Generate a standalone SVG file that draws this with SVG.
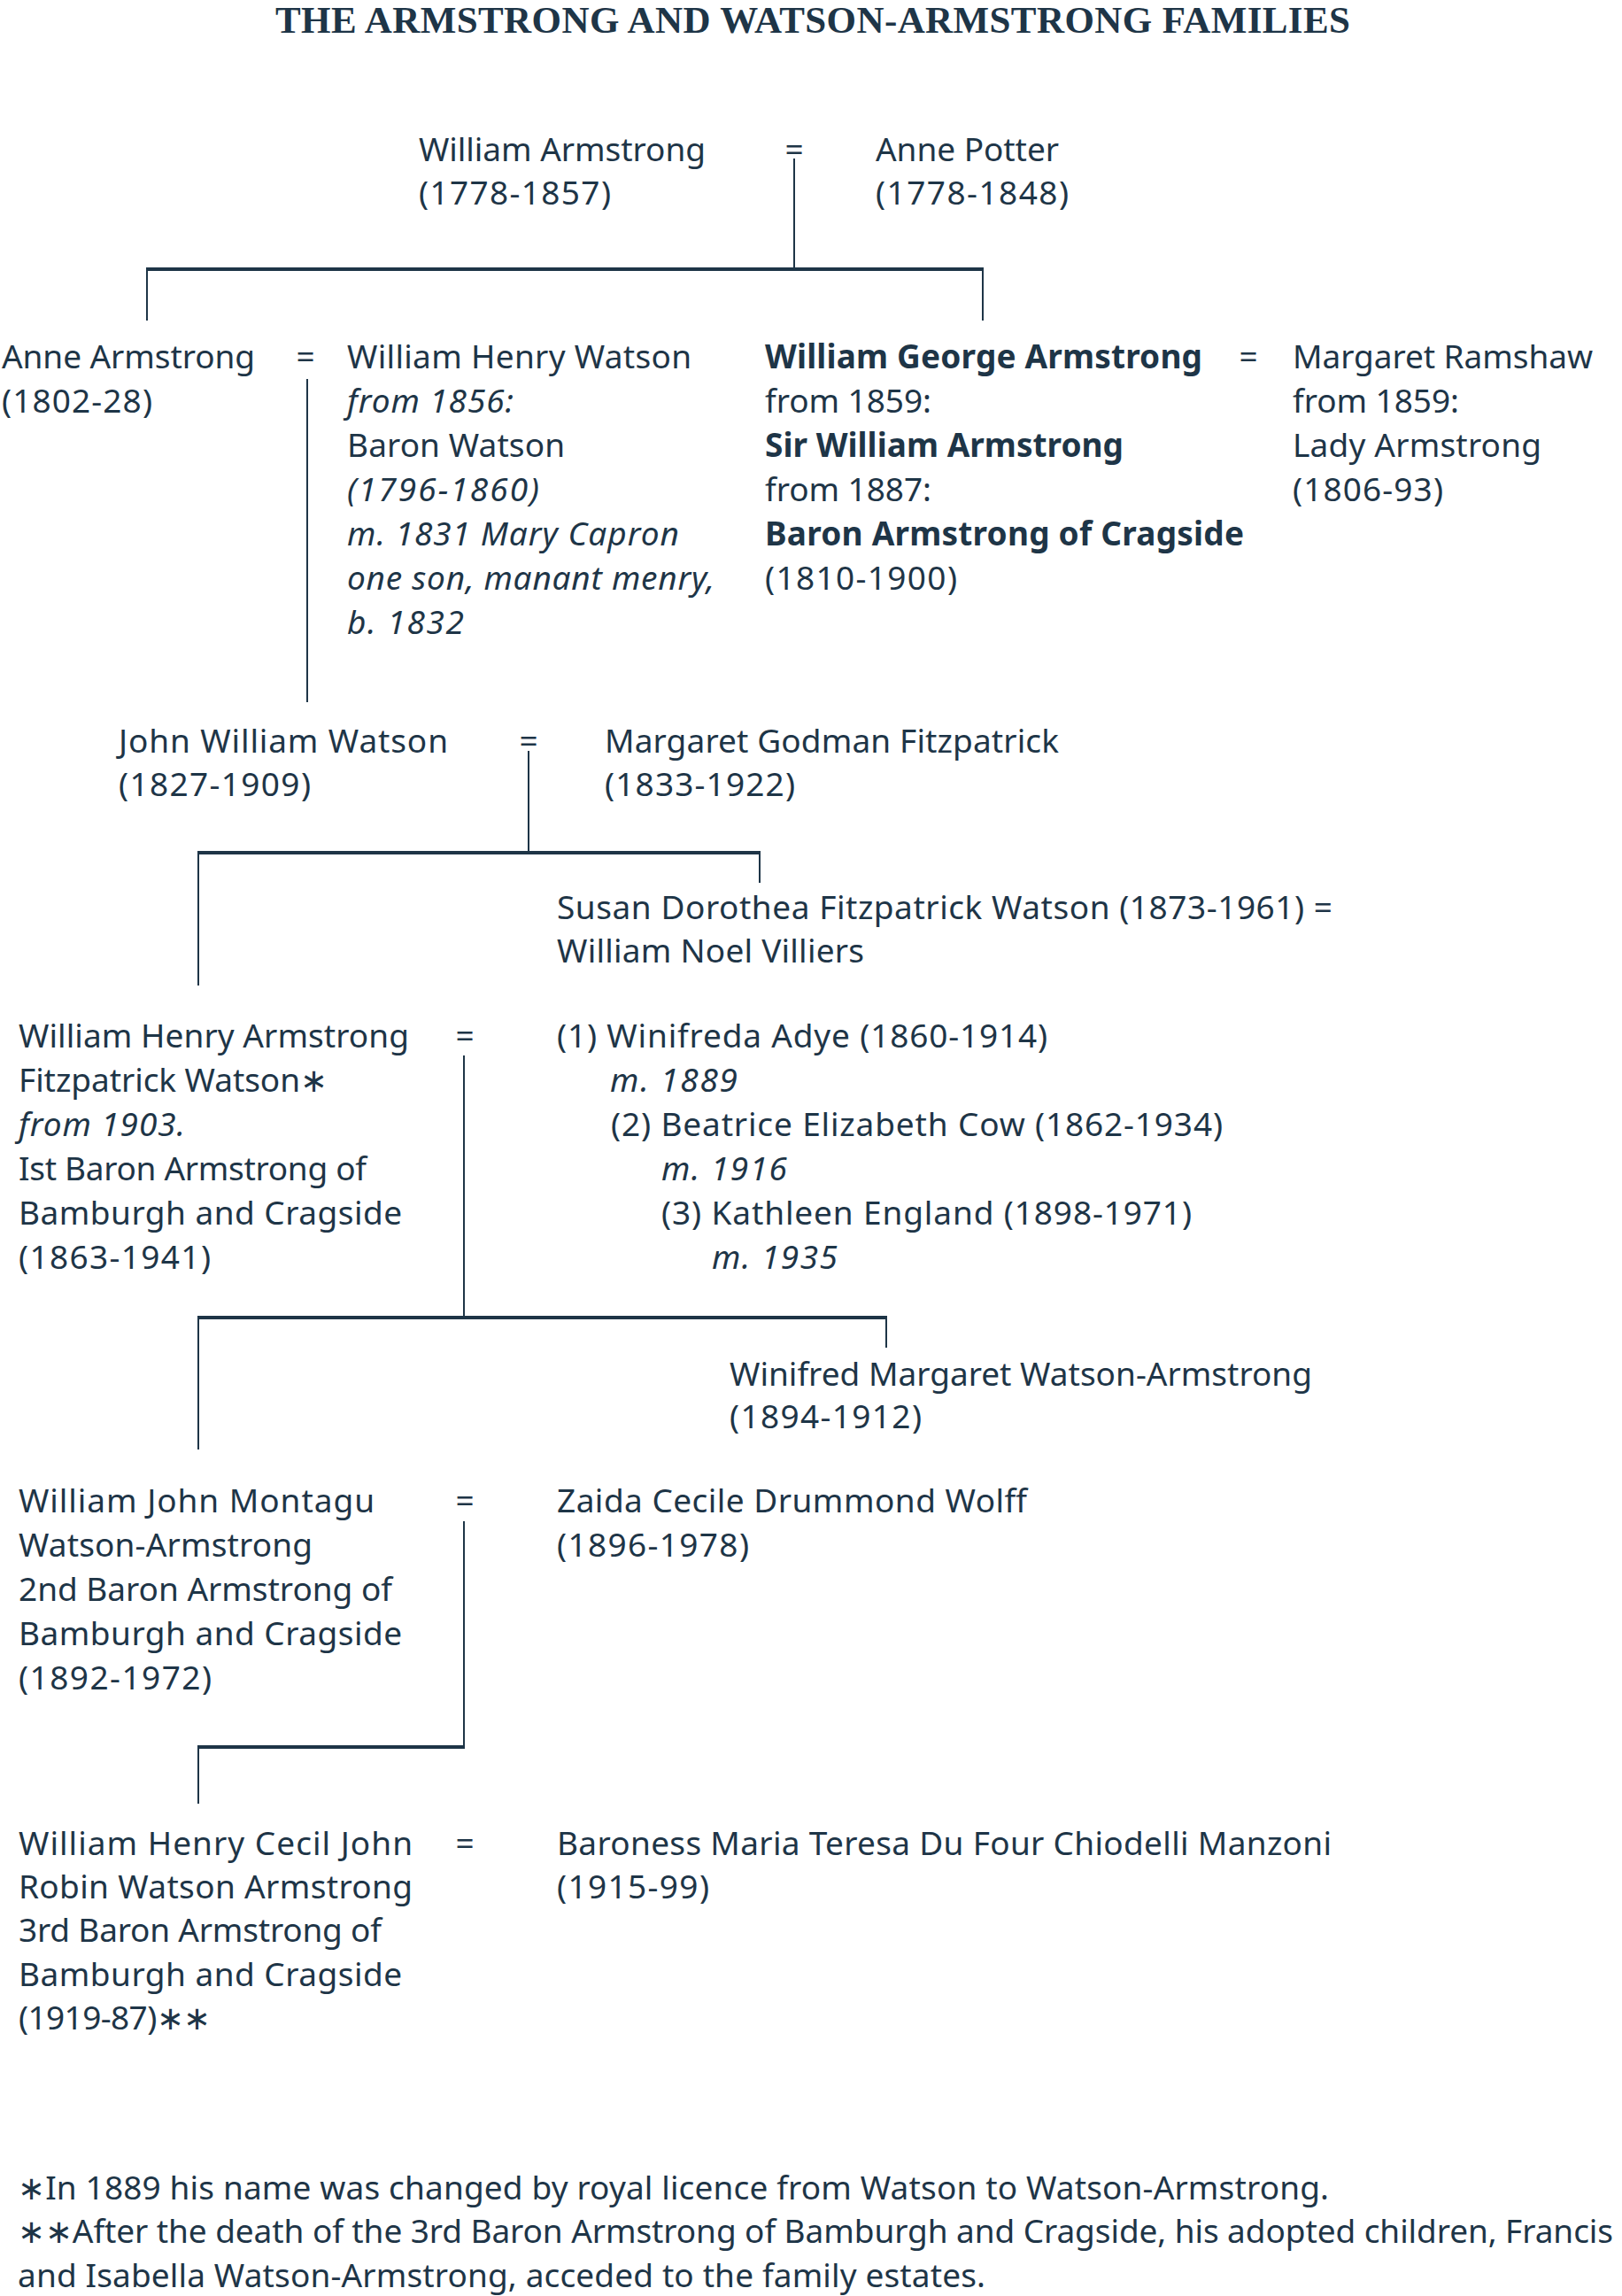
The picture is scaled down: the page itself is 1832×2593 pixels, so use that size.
<svg xmlns="http://www.w3.org/2000/svg" width="1832" height="2593" viewBox="0 0 1832 2593">
<style>
text{font-family:"Noto Sans","Open Sans","Liberation Sans",sans-serif;font-size:37px;fill:#1e3547}
.t{font-family:"Liberation Serif","DejaVu Serif",serif;font-weight:bold;font-size:43px}
.i{font-style:italic}
.b{font-weight:bold}
.eq{text-anchor:middle}
.v{stroke:#1e3547;stroke-width:2;fill:none}
.h{stroke:#1e3547;stroke-width:4;fill:none}
</style>
<rect width="1832" height="2593" fill="#ffffff"/>
<text class="t" x="311" y="37" textLength="1214">THE ARMSTRONG AND WATSON-ARMSTRONG FAMILIES</text>

<g id="connectors">
<line class="v" x1="897" y1="179" x2="897" y2="304"/>
<line class="h" x1="165" y1="304" x2="1111" y2="304"/>
<line class="v" x1="166" y1="304" x2="166" y2="362"/>
<line class="v" x1="1110" y1="304" x2="1110" y2="362"/>
<line class="v" x1="347" y1="428" x2="347" y2="793"/>
<line class="v" x1="597" y1="848" x2="597" y2="963"/>
<line class="h" x1="223" y1="963" x2="859" y2="963"/>
<line class="v" x1="224" y1="963" x2="224" y2="1113"/>
<line class="v" x1="858" y1="963" x2="858" y2="997"/>
<line class="v" x1="524" y1="1192" x2="524" y2="1488"/>
<line class="h" x1="223" y1="1488" x2="1002" y2="1488"/>
<line class="v" x1="224" y1="1488" x2="224" y2="1637"/>
<line class="v" x1="1001" y1="1488" x2="1001" y2="1522"/>
<line class="v" x1="524" y1="1718" x2="524" y2="1973"/>
<line class="h" x1="223" y1="1973" x2="525" y2="1973"/>
<line class="v" x1="224" y1="1973" x2="224" y2="2037"/>
</g>

<g id="marriages">
<text class="eq" x="897" y="182">=</text>
<text class="eq" x="345" y="416">=</text>
<text class="eq" x="1410" y="416">=</text>
<text class="eq" x="597" y="850">=</text>
<text class="eq" x="525" y="1183">=</text>
<text class="eq" x="525" y="1708">=</text>
<text class="eq" x="525" y="2095">=</text>
</g>

<g id="william-armstrong">
<text x="473" y="182" textLength="324">William Armstrong</text>
<text x="473" y="231" textLength="217">(1778-1857)</text>
</g>
<g id="anne-potter">
<text x="989" y="182" textLength="207">Anne Potter</text>
<text x="989" y="231" textLength="218">(1778-1848)</text>
</g>

<g id="anne-armstrong">
<text x="2" y="416" textLength="286">Anne Armstrong</text>
<text x="2" y="466" textLength="170">(1802-28)</text>
</g>
<g id="william-henry-watson">
<text x="392" y="416" textLength="389">William Henry Watson</text>
<text class="i" x="392" y="466" textLength="188">from 1856:</text>
<text x="392" y="516" textLength="246">Baron Watson</text>
<text class="i" x="392" y="566" textLength="217">(1796-1860)</text>
<text class="i" x="392" y="616" textLength="375">m. 1831 Mary Capron</text>
<text class="i" x="392" y="666" textLength="415">one son, manant menry,</text>
<text class="i" x="392" y="716" textLength="132">b. 1832</text>
</g>
<g id="william-george-armstrong">
<text class="b" x="864" y="416" textLength="494">William George Armstrong</text>
<text x="864" y="466" textLength="188">from 1859:</text>
<text class="b" x="864" y="516" textLength="405">Sir William Armstrong</text>
<text x="864" y="566" textLength="188">from 1887:</text>
<text class="b" x="864" y="616" textLength="541">Baron Armstrong of Cragside</text>
<text x="864" y="666" textLength="217">(1810-1900)</text>
</g>
<g id="margaret-ramshaw">
<text x="1460" y="416" textLength="339">Margaret Ramshaw</text>
<text x="1460" y="466" textLength="188">from 1859:</text>
<text x="1460" y="516" textLength="281">Lady Armstrong</text>
<text x="1460" y="566" textLength="170">(1806-93)</text>
</g>

<g id="john-william-watson">
<text x="134" y="850" textLength="372">John William Watson</text>
<text x="134" y="899" textLength="217">(1827-1909)</text>
</g>
<g id="margaret-godman-fitzpatrick">
<text x="683" y="850" textLength="513">Margaret Godman Fitzpatrick</text>
<text x="683" y="899" textLength="215">(1833-1922)</text>
</g>

<g id="susan-dorothea">
<text x="629" y="1038" textLength="876">Susan Dorothea Fitzpatrick Watson (1873-1961) =</text>
<text x="629" y="1087" textLength="347">William Noel Villiers</text>
</g>

<g id="william-henry-armstrong">
<text x="21" y="1183" textLength="441">William Henry Armstrong</text>
<text x="21" y="1233" textLength="349">Fitzpatrick Watson∗</text>
<text class="i" x="21" y="1283" textLength="188">from 1903.</text>
<text x="21" y="1333" textLength="393">Ist Baron Armstrong of</text>
<text x="21" y="1383" textLength="433">Bamburgh and Cragside</text>
<text x="21" y="1433" textLength="217">(1863-1941)</text>
</g>
<g id="wives">
<text x="629" y="1183" textLength="554">(1) Winifreda Adye (1860-1914)</text>
<text class="i" x="689" y="1233" textLength="144">m. 1889</text>
<text x="690" y="1283" textLength="691">(2) Beatrice Elizabeth Cow (1862-1934)</text>
<text class="i" x="747" y="1333" textLength="142">m. 1916</text>
<text x="747" y="1383" textLength="599">(3) Kathleen England (1898-1971)</text>
<text class="i" x="804" y="1433" textLength="142">m. 1935</text>
</g>

<g id="winifred-margaret">
<text x="824" y="1565" textLength="658">Winifred Margaret Watson-Armstrong</text>
<text x="824" y="1613" textLength="217">(1894-1912)</text>
</g>

<g id="william-john-montagu">
<text x="21" y="1708" textLength="402">William John Montagu</text>
<text x="21" y="1758" textLength="332">Watson-Armstrong</text>
<text x="21" y="1808" textLength="422">2nd Baron Armstrong of</text>
<text x="21" y="1858" textLength="433">Bamburgh and Cragside</text>
<text x="21" y="1908" textLength="218">(1892-1972)</text>
</g>
<g id="zaida">
<text x="629" y="1708" textLength="531">Zaida Cecile Drummond Wolff</text>
<text x="629" y="1758" textLength="217">(1896-1978)</text>
</g>

<g id="william-henry-cecil">
<text x="21" y="2095" textLength="445">William Henry Cecil John</text>
<text x="21" y="2144" textLength="445">Robin Watson Armstrong</text>
<text x="21" y="2193" textLength="410">3rd Baron Armstrong of</text>
<text x="21" y="2243" textLength="433">Bamburgh and Cragside</text>
<text x="21" y="2292" textLength="217">(1919-87)∗∗</text>
</g>
<g id="baroness-manzoni">
<text x="629" y="2095" textLength="875">Baroness Maria Teresa Du Four Chiodelli Manzoni</text>
<text x="629" y="2144" textLength="172">(1915-99)</text>
</g>

<g id="footnotes">
<text x="20" y="2484" textLength="1481">∗In 1889 his name was changed by royal licence from Watson to Watson-Armstrong.</text>
<text x="20" y="2533" textLength="1802">∗∗After the death of the 3rd Baron Armstrong of Bamburgh and Cragside, his adopted children, Francis</text>
<text x="20" y="2583" textLength="1093">and Isabella Watson-Armstrong, acceded to the family estates.</text>
</g>
</svg>
